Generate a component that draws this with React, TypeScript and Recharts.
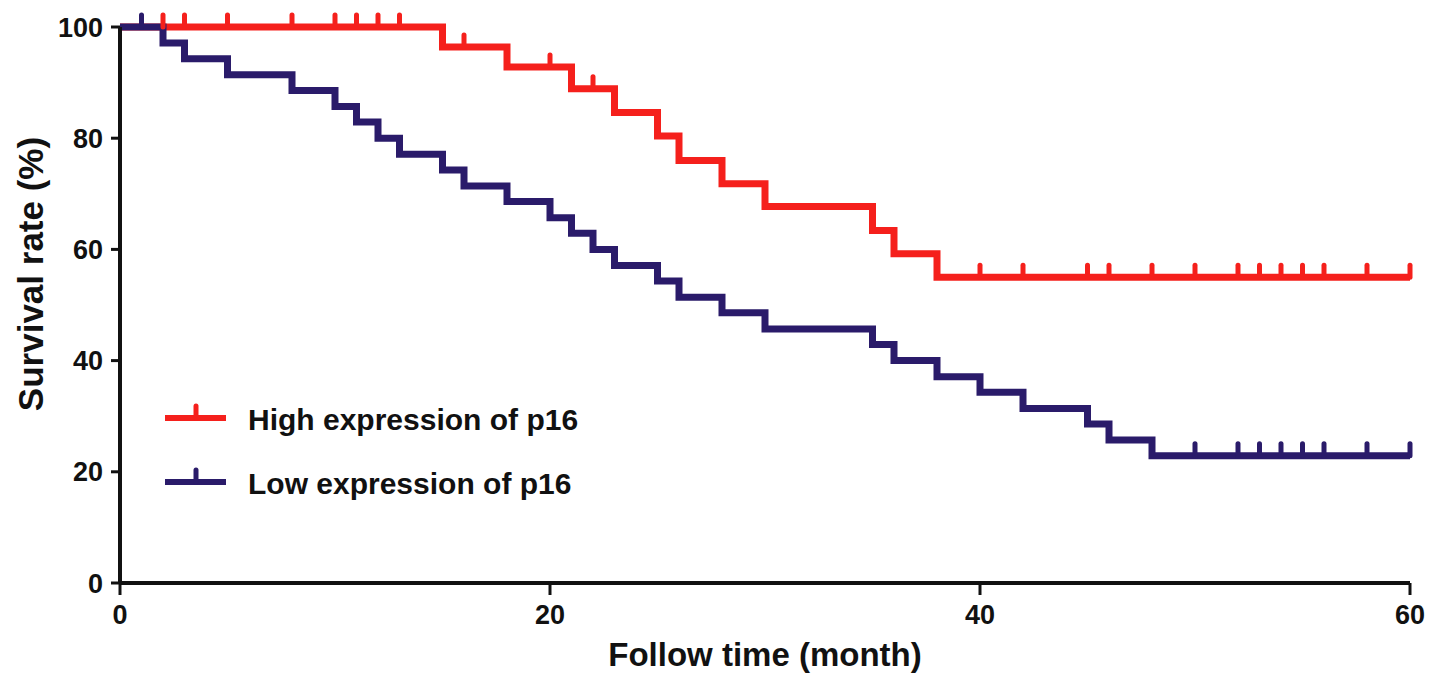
import { ComposedChart, Line, XAxis, YAxis } from "recharts";

// Kaplan-Meier readings (months, survival %)
const highEventMonths = [0, 15, 18, 21, 23, 25, 26, 28, 30, 35, 36, 38];
const highEventSurvival = [100, 96.4, 92.8, 88.9, 84.6, 80.4, 76.0, 71.8, 67.7, 63.4, 59.2, 55.0];
const highCensorMonths = [2, 3, 5, 8, 10, 11, 12, 13, 16, 20, 22, 40, 42, 45, 46, 48, 50, 52, 53, 54, 55, 56, 58, 60];

const lowEventMonths = [0, 2, 3, 5, 8, 10, 11, 12, 13, 15, 16, 18, 20, 21, 22, 23, 25, 26, 28, 30, 35, 36, 38, 40, 42, 45, 46, 48];
const lowEventSurvival = [100, 97.1, 94.3, 91.4, 88.6, 85.7, 82.9, 80.0, 77.1, 74.3, 71.4, 68.6, 65.7, 62.9, 60.0, 57.1, 54.3, 51.4, 48.6, 45.7, 42.9, 40.0, 37.1, 34.3, 31.4, 28.6, 25.7, 22.9];
const lowCensorMonths = [1, 50, 52, 53, 54, 55, 56, 58, 60];

const xTicks = [0, 20, 40, 60];
const yTicks = [0, 20, 40, 60, 80, 100];

const seriesNames = ["High expression of p16", "Low expression of p16"];

const RED = "#f5201c";
const BLUE = "#2a1b6a";
const FONT = "'Liberation Sans', Arial, Helvetica, sans-serif";

function buildSeries(months: number[], survival: number[], censored: number[]) {
  const rows: { month: number; value: number; censored: boolean }[] = months.map((m, i) => ({
    month: m,
    value: survival[i],
    censored: false,
  }));
  censored.forEach((m) => {
    let v = survival[0];
    months.forEach((em, i) => {
      if (em <= m) v = survival[i];
    });
    rows.push({ month: m, value: v, censored: true });
  });
  return rows.sort((a, b) => a.month - b.month);
}

const highData = buildSeries(highEventMonths, highEventSurvival, highCensorMonths);
const lowData = buildSeries(lowEventMonths, lowEventSurvival, lowCensorMonths);

const censorDot = (color: string, name: string) => (props: any) => {
  const { cx, cy, payload, index } = props;
  if (!payload || !payload.censored) return <g key={`${name}-${index}`} />;
  return (
    <path
      key={`${name}-${index}`}
      d={`M${cx},${cy} V${cy - 12}`}
      stroke={color}
      strokeWidth={5}
      strokeLinecap="round"
      fill="none"
    />
  );
};

// legend drawn as an overlay so it doesn't shrink the plot area
function KmLegend() {
  return (
    <svg width={480} height={115} style={{ position: "absolute", left: 150, top: 395 }}>
      {[RED, BLUE].map((c, i) => {
        const y = 23 + i * 64;
        return (
          <g key={c}>
            <line x1={15} x2={76} y1={y} y2={y} stroke={c} strokeWidth={6} />
            <line x1={46} x2={46} y1={y} y2={y - 12} stroke={c} strokeWidth={5} strokeLinecap="round" />
            <text x={98} y={y + 12} fontFamily={FONT} fontWeight="bold" fontSize={30} fill="#111">
              {seriesNames[i]}
            </text>
          </g>
        );
      })}
    </svg>
  );
}

export default function App() {
  return (
    <div style={{ position: "absolute", left: 0, top: 0, width: 1441, height: 689, background: "#fff" }}>
      <ComposedChart width={1441} height={689} margin={{ top: 27, right: 31, left: 0, bottom: 0 }}>
        <XAxis
          type="number"
          dataKey="month"
          domain={[0, 60]}
          ticks={xTicks}
          allowDuplicatedCategory={false}
          height={106}
          axisLine={{ stroke: "#111", strokeWidth: 4 }}
          tickLine={{ stroke: "#111", strokeWidth: 3 }}
          tickSize={12}
          tickMargin={10}
          tick={{ fill: "#111", fontSize: 27, fontWeight: "bold", fontFamily: FONT }}
          label={{
            content: (p: any) => (
              <text
                x={p.viewBox.x + p.viewBox.width / 2}
                y={p.viewBox.y + 83}
                textAnchor="middle"
                fontFamily={FONT}
                fontWeight="bold"
                fontSize={33}
                fill="#111"
              >
                Follow time (month)
              </text>
            ),
          }}
        />
        <YAxis
          type="number"
          domain={[0, 100]}
          ticks={yTicks}
          width={120}
          axisLine={{ stroke: "#111", strokeWidth: 4 }}
          tickLine={{ stroke: "#111", strokeWidth: 3 }}
          tickSize={9}
          tickMargin={8}
          tick={{ fill: "#111", fontSize: 27, fontWeight: "bold", fontFamily: FONT }}
          label={{
            content: () => (
              <text
                transform="translate(43, 274) rotate(-90)"
                textAnchor="middle"
                fontFamily={FONT}
                fontWeight="bold"
                fontSize={35}
                fill="#111"
              >
                Survival rate (%)
              </text>
            ),
          }}
        />
        <Line
          data={highData}
          dataKey="value"
          name={seriesNames[0]}
          type="stepAfter"
          stroke={RED}
          strokeWidth={7}
          strokeLinejoin="miter"
          dot={censorDot(RED, "high")}
          activeDot={false}
          isAnimationActive={false}
        />
        <Line
          data={lowData}
          dataKey="value"
          name={seriesNames[1]}
          type="stepAfter"
          stroke={BLUE}
          strokeWidth={7}
          strokeLinejoin="miter"
          dot={censorDot(BLUE, "low")}
          activeDot={false}
          isAnimationActive={false}
        />
      </ComposedChart>
      <KmLegend />
    </div>
  );
}
